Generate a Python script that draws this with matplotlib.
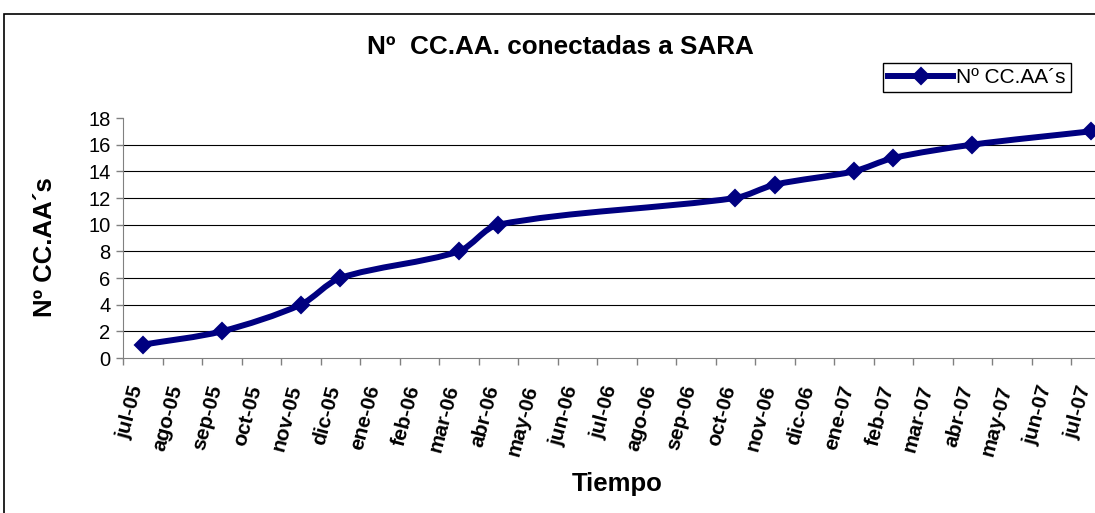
import numpy as np
import matplotlib
matplotlib.use("Agg")
import matplotlib.pyplot as plt
from matplotlib.path import Path
from matplotlib.patches import PathPatch, Rectangle
from matplotlib.lines import Line2D

plt.rcParams['font.family'] = ['Liberation Sans', 'DejaVu Sans']

MONTHS = ["jul-05", "ago-05", "sep-05", "oct-05", "nov-05", "dic-05", "ene-06",
          "feb-06", "mar-06", "abr-06", "may-06", "jun-06", "jul-06", "ago-06",
          "sep-06", "oct-06", "nov-06", "dic-06", "ene-07", "feb-07", "mar-07",
          "abr-07", "may-07", "jun-07", "jul-07"]
DATES = ["jul-05", "sep-05", "nov-05", "dic-05", "mar-06", "abr-06",
         "oct-06", "nov-06", "ene-07", "feb-07", "abr-07", "jul-07"]
COUNTS = [1, 2, 4, 6, 8, 10, 12, 13, 14, 15, 16, 17]
Y_TICKS = [0, 2, 4, 6, 8, 10, 12, 14, 16, 18]

NAVY = "#000080"
W, H = 1095, 513

fig = plt.figure(figsize=(W / 100, H / 100), dpi=100)
ax = fig.add_axes([123 / W, 155 / H, 987.5 / W, 240 / H])
ax.set_xlim(-0.5, len(MONTHS) - 0.5)
ax.set_ylim(0, 18)

x = np.array([MONTHS.index(d) for d in DATES], dtype=float)
y = np.array(COUNTS, dtype=float)

# smoothed line like excel: bezier segments, built in pixel space
pts = ax.transData.transform(np.column_stack([x, y]))
n = len(pts)
tang = []
for i in range(n):
    d = pts[min(i + 1, n - 1)] - pts[max(i - 1, 0)]
    tang.append(d / np.hypot(*d))
verts = [pts[0]]
codes = [Path.MOVETO]
for i in range(n - 1):
    seg = np.hypot(*(pts[i + 1] - pts[i])) * 0.3
    verts += [pts[i] + tang[i] * seg, pts[i + 1] - tang[i + 1] * seg, pts[i + 1]]
    codes += [Path.CURVE4] * 3
verts = ax.transData.inverted().transform(np.array(verts))
ax.add_patch(PathPatch(Path(verts, codes), fill=False, edgecolor=NAVY,
                       lw=4.3, capstyle='round', joinstyle='round', zorder=3))
ax.plot(x, y, ls='none', marker='D', ms=8.5, color=NAVY, mec=NAVY, mew=1.5,
        zorder=4, clip_on=False)

ax.set_yticks(Y_TICKS)
ax.set_xticks(np.arange(len(MONTHS) + 1) - 0.5)
ax.set_xticklabels([])
ax.set_xticks(np.arange(len(MONTHS)), minor=True)
ax.set_xticklabels(MONTHS, minor=True, rotation=75, ha='right', va='baseline',
                   rotation_mode='anchor', fontsize=15, fontweight='bold')
ax.tick_params(axis='x', which='minor', length=0, pad=21)
ax.tick_params(axis='x', which='major', length=5, width=1, color='#808080')
ax.tick_params(axis='y', length=5, width=1, color='#808080', labelsize=14.5, pad=4)

ax.yaxis.grid(True, color='#000000', lw=0.8)
for gl in ax.get_ygridlines()[-1:] + ax.get_ygridlines()[:1]:
    gl.set_visible(False)
ax.set_axisbelow(True)
for s in ['top', 'right']:
    ax.spines[s].set_visible(False)
ax.spines['left'].set_color('#808080')
ax.spines['bottom'].set_color('#808080')

ax.set_xlabel("Tiempo", fontsize=18.5, fontweight='bold', va='center')
ax.xaxis.set_label_coords(0.5, -0.525)
ax.set_ylabel("Nº CC.AA´s", fontsize=18.5, fontweight='bold', va='center')
ax.yaxis.set_label_coords(-0.079, 0.4625)

fig.text(560 / W, 1 - 47 / H, "Nº  CC.AA. conectadas a SARA", fontsize=18.8,
         fontweight='bold', ha='center', va='center')

handle = Line2D([], [], color=NAVY, lw=4.3, marker='D', ms=8.5, mew=1.5)
fig.legend([handle], ["Nº CC.AA´s"], loc='upper left',
           bbox_to_anchor=(883 / W, 1 - 63 / H), borderaxespad=0,
           fontsize=15, handlelength=3.1, handletextpad=0.15, borderpad=0.25,
           fancybox=False, edgecolor='#000000', framealpha=1)

fig.add_artist(Rectangle((4 / W, -0.1), 1.2, 1.1 - 14 / H, transform=fig.transFigure,
                         fill=False, edgecolor='black', lw=1.2, clip_on=False))

fig.savefig("out.png", dpi=100)
